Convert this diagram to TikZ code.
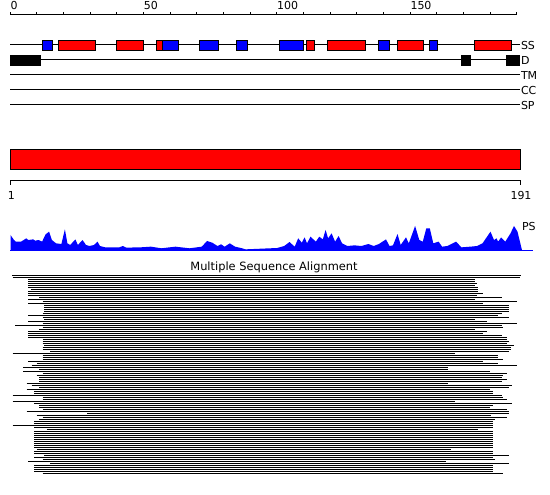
\documentclass[tikz,border=0pt]{standalone}
\usepackage{fontspec}
\setmainfont{DejaVu Sans}

\tikzset{
  helix/.style={draw=black, fill=red},
  strand/.style={draw=black, fill=blue},
  disorder/.style={draw=black, fill=black},
  tracklabel/.style={anchor=west, inner sep=0pt},
  seqline/.style={line width=1pt}
}

\begin{document}
\begin{tikzpicture}[x=1pt, y=-1pt, line width=1pt, font=\fontsize{11}{13}\selectfont]

	% Rahmen
	\useasboundingbox (0,0) rectangle (550,495);

	% Lineal oben
	\draw (10,15) -- (517,15);
	\foreach \i in {0,...,19} \draw (10+\i*26.667,15) -- (10+\i*26.667,12);
	\foreach \n in {0,50,100,150}
		\node[anchor=base west, inner sep=0pt] (pos\n) at (10+\n*2.6667,10) {\n};

	% Spuren
	\foreach \y/\t in {45/SS,60/D,75/TM,90/CC,105/SP} {
		\draw (10,\y) -- (520,\y);
		\node[tracklabel] (\t) at (520.5,\y) {\t};
	}

	% Sekundaerstruktur
	\draw[strand] (42.3,40.5) rectangle (52.7,50.5);
	\draw[helix] (58.3,40.5) rectangle (95.7,50.5);
	\draw[helix] (116.3,40.5) rectangle (143.7,50.5);
	\draw[helix] (156.3,40.5) rectangle (162.3,50.5);
	\draw[strand] (162.3,40.5) rectangle (178.3,50.5);
	\draw[strand] (199.3,40.5) rectangle (218.7,50.5);
	\draw[strand] (236.3,40.5) rectangle (247.7,50.5);
	\draw[strand] (279,40.5) rectangle (303.7,50.5);
	\draw[helix] (306.3,40.5) rectangle (314.7,50.5);
	\draw[helix] (327.3,40.5) rectangle (365.7,50.5);
	\draw[strand] (378.3,40.5) rectangle (389.7,50.5);
	\draw[helix] (397.3,40.5) rectangle (423.7,50.5);
	\draw[strand] (429.3,40.5) rectangle (437.7,50.5);
	\draw[helix] (474.3,40.5) rectangle (511.7,50.5);

	% ungeordnete Bereiche
	\draw[disorder] (10,55.3) rectangle (40,65.3);
	\draw[disorder] (461,55.3) rectangle (470,65.3);
	\draw[disorder] (506,55.3) rectangle (519.7,65.3);

	% Domaene
	\draw[helix] (10,150) rectangle (520,170);

	% Lineal unten
	\draw (10,180.5) -- (520,180.5);
	\draw (10,180.5) -- (10,185);
	\draw (520,180.5) -- (520,185);
	\node[anchor=base, inner sep=0pt] (first) at (11.4,200) {1};
	\node[anchor=base, inner sep=0pt] (last) at (521,200) {191};

	% Profil
	\node[anchor=base west, inner sep=0pt] (PS) at (521.5,230) {PS};
	\begin{scope}[shift={(0,250)}, yscale=-0.95]
		\fill[blue] (10.5,0) -- plot coordinates {
			(10.5,15.8) (14,10.5) (15.8,8.8) (21.1,8.8) (26.3,12.3) (28.1,10.5)
			(33.3,11.2) (35.1,9.8) (38.6,10.5) (42.1,8.8) (45.6,16.5) (49.1,19.3)
			(51.9,10.5) (56.1,7) (61.4,6.3) (64.9,21.8) (67.4,7) (70.2,5.3)
			(75.4,11.2) (77.9,5.3) (82.5,10.5) (86,5.3) (89.5,4.2) (94,5.3)
			(97.5,8.8) (100,4.2) (105.3,2.8) (119.3,2.8) (122.8,4.2) (126.3,2.5)
			(140.4,2.8) (150.9,3.5) (161.4,1.8) (175.4,3.5) (189.5,1.8) (201.8,3.5)
			(207,9.5) (212.3,7.7) (217.5,4.2) (221.1,6) (224.6,3.5) (229.8,7)
			(235.1,3.5) (242.1,1.8) (245.6,0.7) (277.2,2.1) (284.2,4.2) (289.5,8.4)
			(294.7,3.5) (298.2,12.3) (301.8,7.7) (304.6,13.3) (307,7) (310.5,14)
			(315.8,8.8) (319.3,14) (322.8,11.2) (325.6,21.1) (328.1,12.3) (331.6,17.5)
			(335.1,8.8) (338.6,14.7) (342.1,7) (347.4,4.2) (354.4,4.9) (361.4,4.2)
			(368.4,6.3) (373.7,4.2) (378.9,6.3) (386,11.2) (389.5,4.2) (393,4.9)
			(397.5,16.8) (400.7,5.3) (406,13.3) (408.8,7) (415.1,25.3) (419.3,10.5)
			(422.8,8.8) (426.3,22.8) (429.8,22.8) (433.3,7) (438.6,8.8) (442.1,3.5)
			(447.4,4.2) (452.6,7) (456.1,8.8) (461.4,2.8) (470.2,3.5) (477.2,4.2)
			(482.5,7) (490.5,19.3) (494,10.5) (496.5,12.3) (498.2,8.8) (501.1,13.3)
			(505.3,8.8) (510.5,17.5) (514,25.3) (517.5,19.3) (521.8,0.7)
		} -- (521.8,0) -- cycle;
	\end{scope}
	\draw[blue] (10,250) -- (533,250);

	% Alignment
	\node[anchor=base, inner sep=0pt, font=\fontsize{11.4}{13}\selectfont] (msa) at (274,270) {Multiple Sequence Alignment};
	\foreach \a/\b [count=\k from 0] in {
		12/520.7, 12.7/520, 28.3/475, 28.3/475, 28.3/477.3, 28.3/475, 28.3/477.7, 31/477.7,
		28.3/477.7, 28.3/482.7, 28.3/477.3, 39.3/501.7, 28.3/475, 42.7/517.3, 28.3/482.7, 44.3/509.3,
		44.3/509.3, 44.3/509.3, 44.3/509.3, 42.7/501.7, 28.3/498.3, 42.7/509.3, 44.3/475, 28.3/487.3,
		42.7/516.7, 15/501.7, 42.7/503.3, 39.3/475, 28.3/487.3, 28.3/482.7, 28.3/501.7, 28.3/506.7,
		42.7/506.7, 42.7/509.3, 42.7/506.7, 44.3/514.3, 42.7/510.7, 42.7/511, 50/509.3, 12.7/455,
		42.7/498.3, 42.7/498.3, 42.7/503.3, 28.3/482.7, 36.7/498.3, 31.7/517.3, 23.3/447.7, 39.3/447.7,
		23.3/490, 42.7/506.7, 36.7/503.3, 39.3/501.7, 39.3/506.7, 39.3/501.7, 26.7/447.7, 31.7/511.7,
		39.3/509.3, 26.7/490, 34.3/493.3, 34.3/493.3, 12.7/501.7, 42.7/503.3, 42.7/506.7, 12.7/455,
		34.3/511.7, 39.3/493.3, 39.3/490, 42.7/506.7, 26.7/509.3, 87.3/509.3, 36.7/491, 42.7/506.7,
		39.3/495, 34.3/493.3, 34.3/493.3, 12.7/493.3, 34.3/493.3, 46.7/477.7, 34.3/493.3, 34.3/493.3,
		34.3/493.3, 34.3/493.3, 34.3/493.3, 34.3/493.3, 34.3/493.3, 34.3/493.3, 34.3/493.3, 36.7/450.7,
		34.3/493.3, 34.3/493.3, 44.3/509.3, 34.3/493.3, 42.7/495, 28.3/445.7, 50/509.3, 34.3/493.3,
		34.3/493.3, 34.3/493.3, 34.3/493.3, 42.7/503.3}
		\draw[seqline] (\a,275.5+2*\k) -- (\b,275.5+2*\k);

\end{tikzpicture}
\end{document}
